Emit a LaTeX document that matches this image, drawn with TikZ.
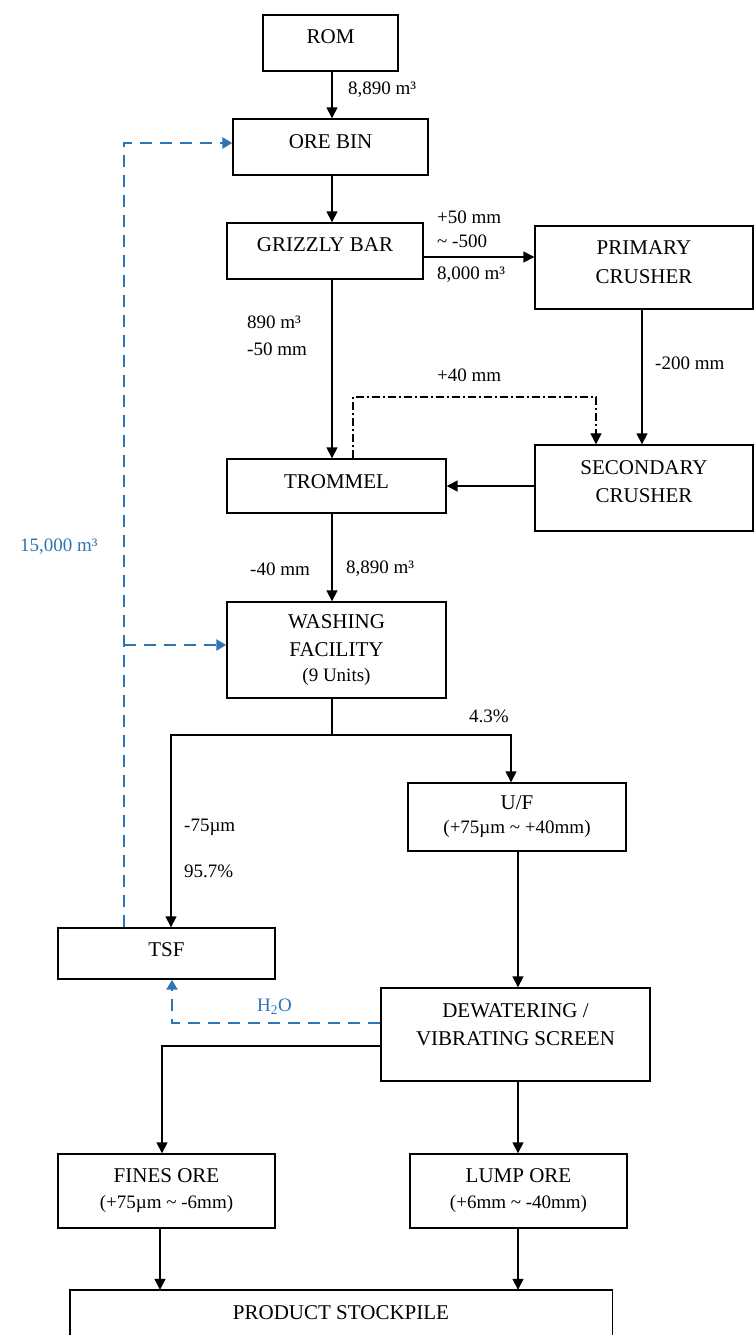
\documentclass[tikz,border=0pt]{standalone}
\usepackage{fontspec}
\setmainfont{Liberation Serif}
\usetikzlibrary{arrows.meta}
\definecolor{flowblue}{RGB}{46,117,182}
\newcommand{\bxfont}{\fontsize{21}{27}\selectfont}
\newcommand{\sbfont}{\fontsize{19}{24}\selectfont}
\newcommand{\lbfont}{\fontsize{19}{24}\selectfont}
\begin{document}
\begin{tikzpicture}[x=1pt,y=-1pt,
  box/.style={draw, line width=1.4pt, inner sep=0pt, align=center, font=\bxfont},
  arr/.style={line width=1.5pt, -{Triangle[length=11pt,width=11pt]}},
  ln/.style={line width=1.5pt},
  bluearr/.style={draw=flowblue, line width=2.5pt, dash pattern=on 12pt off 8pt, -{Triangle[length=10pt,width=11pt]}},
  dd/.style={line width=1.2pt, dash pattern=on 8pt off 3pt on 2pt off 3pt, -{Triangle[length=11pt,width=11pt]}},
  lbl/.style={inner sep=0pt, anchor=west, font=\lbfont},
  blbl/.style={lbl, text=flowblue},
]
\useasboundingbox (0,0) rectangle (754,1335);

% boxes
\node[box, minimum width=135pt, minimum height=56pt, text depth=12pt] (rom) at (330.5,43) {ROM};
\node[box, minimum width=195pt, minimum height=56pt, text depth=10pt] (orebin) at (330.5,147) {ORE BIN};
\node[box, minimum width=196pt, minimum height=56pt, text depth=12pt] (grizzly) at (325,251) {GRIZZLY BAR};
\node[box, minimum width=218pt, minimum height=83pt, text depth=10pt] (primary) at (644,267.5) {PRIMARY\\[2pt]CRUSHER};
\node[box, minimum width=219pt, minimum height=54pt, text depth=8pt] (trommel) at (336.5,486) {TROMMEL};
\node[box, minimum width=218pt, minimum height=86pt, text depth=12pt] (secondary) at (644,488) {SECONDARY\\[1pt]CRUSHER};
\node[box, minimum width=219pt, minimum height=96pt] (washing) at (336.5,650) {WASHING\\[1pt]FACILITY\\[-2pt]{\sbfont (9 Units)}};
\node[box, minimum width=218pt, minimum height=68pt] (uf) at (517,817) {U/F\\[-3pt]{\sbfont (+75µm \textasciitilde{} +40mm)}};
\node[box, minimum width=217pt, minimum height=51pt, text depth=8pt] (tsf) at (166.5,953.5) {TSF};
\node[box, minimum width=269pt, minimum height=93pt, text depth=20pt] (dewater) at (515.5,1034.5) {DEWATERING /\\[1pt]VIBRATING SCREEN};
\node[box, minimum width=217pt, minimum height=74pt] (fines) at (166.5,1191) {FINES ORE\\[-1pt]{\sbfont (+75µm \textasciitilde{} -6mm)}};
\node[box, minimum width=217pt, minimum height=74pt] (lump) at (518.5,1191) {LUMP ORE\\[-1pt]{\sbfont (+6mm \textasciitilde{} -40mm)}};
\node[inner sep=0pt, minimum width=542pt, minimum height=46pt, font=\bxfont] (product) at (341,1313) {PRODUCT STOCKPILE};
\draw[line width=1.4pt] ([yshift=-6pt]product.south west) -- (product.north west) -- (product.north east) -- ([yshift=-6pt]product.south east);

% helper coordinates
\coordinate (c1) at (332,0);
\coordinate (c2) at (642,0);
\coordinate (c3) at (518,0);
\coordinate (c4) at (160,0);
\coordinate (r1) at (0,257);
\coordinate (d1) at (353,397);
\coordinate (d2) at (596,397);
\coordinate (split) at (332,735);
\coordinate (sL) at (171,735);
\coordinate (sR) at (511,735);
\coordinate (bTop) at (124,143);
\coordinate (bMid) at (124,645);
\coordinate (hL) at (172,1023);
\coordinate (fL) at (162,1046);

% main flow
\draw[arr] (rom.south -| c1) -- (orebin.north -| c1);
\draw[arr] (orebin.south -| c1) -- (grizzly.north -| c1);
\draw[arr] (grizzly.east |- r1) -- (primary.west |- r1);
\draw[arr] (grizzly.south -| c1) -- (trommel.north -| c1);
\draw[arr] (primary.south -| c2) -- (secondary.north -| c2);
\draw[dd] (trommel.north -| d1) -- (d1) -- (d2) -- (secondary.north -| d2);
\draw[arr] (secondary.west |- trommel.east) -- (trommel.east);
\draw[arr] (trommel.south -| c1) -- (washing.north -| c1);
\draw[ln] (washing.south -| split) -- (split);
\draw[arr] (split) -- (sL) -- (tsf.north -| sL);
\draw[arr] (split) -- (sR) -- (uf.north -| sR);
\draw[arr] (uf.south -| c3) -- (dewater.north -| c3);
\draw[arr] (dewater.west |- fL) -- (fL) -- (fines.north -| fL);
\draw[arr] (dewater.south -| c3) -- (lump.north -| c3);
\draw[arr] (fines.south -| c4) -- (product.north -| c4);
\draw[arr] (lump.south -| c3) -- (product.north -| c3);

% water recycle
\draw[bluearr] (tsf.north -| bTop) -- (bTop) -- (orebin.west |- bTop);
\draw[bluearr] (bMid) -- (washing.west |- bMid);
\draw[bluearr] (dewater.west |- hL) -- (hL) -- (tsf.south -| hL);

% labels
\node[lbl] (l1) at (348,90) {8,890 m³};
\node[lbl] (l2) at (437,217) {+50 mm};
\node[lbl] (l3) at (437,241) {\textasciitilde{} -500};
\node[lbl] (l4) at (437,275) {8,000 m³};
\node[lbl] (l5) at (247,322) {890 m³};
\node[lbl] (l6) at (247,349) {-50 mm};
\node[lbl] (l7) at (655,363) {-200 mm};
\node[lbl] (l8) at (437,375) {+40 mm};
\node[blbl] (l9) at (20,547) {15,000 m³};
\node[lbl] (l10) at (250,569) {-40 mm};
\node[lbl] (l11) at (346,569) {8,890 m³};
\node[lbl] (l12) at (469,716) {4.3\%};
\node[lbl] (l13) at (184,827) {-75µm};
\node[lbl] (l14) at (184,871) {95.7\%};
\node[blbl] (l15) at (257,1007) {H\textsubscript{2}O};
\end{tikzpicture}
\end{document}
